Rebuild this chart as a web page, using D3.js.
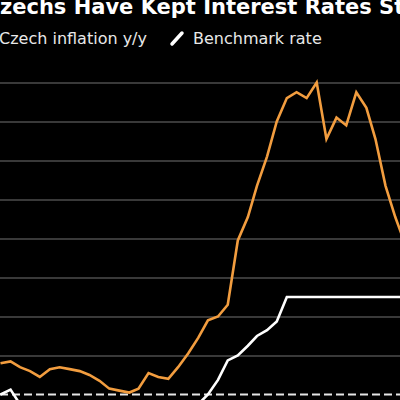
<!DOCTYPE html>
<html>
<head>
<meta charset="utf-8">
<script src="https://cdn.jsdelivr.net/npm/d3@7"></script>
<style>
  html, body { margin: 0; padding: 0; background: #000; overflow: hidden; }
  text { font-family: "DejaVu Sans", sans-serif; }
</style>
</head>
<body>
<div id="chart-area"></div>
<script>
// DATA
const months = [
  "2020-01","2020-02","2020-03","2020-04","2020-05","2020-06","2020-07","2020-08","2020-09","2020-10","2020-11","2020-12",
  "2021-01","2021-02","2021-03","2021-04","2021-05","2021-06","2021-07","2021-08","2021-09","2021-10","2021-11","2021-12",
  "2022-01","2022-02","2022-03","2022-04","2022-05","2022-06","2022-07","2022-08","2022-09","2022-10","2022-11","2022-12",
  "2023-01","2023-02","2023-03","2023-04","2023-05","2023-06"
]
const inflation = [
  3.6, 3.7, 3.4, 3.2, 2.9, 3.3, 3.4, 3.3, 3.2, 3.0, 2.7, 2.3,
  2.2, 2.1, 2.3, 3.1, 2.9, 2.8, 3.4, 4.1, 4.9, 5.8, 6.0, 6.6,
  9.9, 11.1, 12.7, 14.2, 16.0, 17.2, 17.5, 17.2, 18.0, 15.1, 16.2, 15.8,
  17.5, 16.7, 15.1, 12.7, 11.1, 9.7
]
const benchmarkRate = [
  2.0, 2.25, 1.5, 1.0, 0.25, 0.25, 0.25, 0.25, 0.25, 0.25, 0.25, 0.25,
  0.25, 0.25, 0.25, 0.25, 0.25, 0.5, 0.5, 0.75, 1.5, 2.0, 2.75, 3.75,
  4.0, 4.5, 5.0, 5.3, 5.75, 7.0, 7.0, 7.0, 7.0, 7.0, 7.0, 7.0,
  7.0, 7.0, 7.0, 7.0, 7.0, 7.0
]
const gridTicks = [4, 6, 8, 10, 12, 14, 16, 18]
const targetRate = 2
const titleText = "Czechs Have Kept Interest Rates Steady"
const legendLabels = ["Czech inflation y/y", "Benchmark rate"]

const WIDTH = 400
const HEIGHT = 400
const ORANGE = "#f29d3f"

const parseMonth = d3.timeParse("%Y-%m")
const dates = months.map(parseMonth)

const svg = d3.select("#chart-area").append("svg")
  .attr("width", WIDTH)
  .attr("height", HEIGHT)
  .style("display", "block")

svg.append("rect")
  .attr("width", WIDTH)
  .attr("height", HEIGHT)
  .attr("fill", "#000")

// SCALES
const x = d3.scaleTime()
  .domain([parseMonth("2020-01"), parseMonth("2022-09")])
  .range([0.5, 316.7])
const y = d3.scaleLinear()
  .domain([0, 18])
  .range([433.5, 82.5])

// GRIDLINES (value labels sit to the right, outside the crop)
const yAxisCall = d3.axisRight(y)
  .tickValues(gridTicks)
  .tickSize(420)
  .tickFormat(d => d + "%")
const yAxis = svg.append("g")
  .attr("class", "y axis")
  .call(yAxisCall)
yAxis.select(".domain").remove()
yAxis.selectAll("line")
  .attr("stroke", "#4d4d4d")
  .attr("stroke-width", 1.3)
yAxis.selectAll("text").attr("fill", "#aaa")

// 2% target
svg.append("line")
  .attr("x1", 0)
  .attr("x2", WIDTH)
  .attr("y1", y(targetRate))
  .attr("y2", y(targetRate))
  .attr("stroke", "#e6e6e6")
  .attr("stroke-width", 2)
  .attr("stroke-dasharray", "8,4")

// LINES
const valueLine = d3.line()
  .x((d, i) => x(dates[i]))
  .y(d => y(d))

svg.append("path")
  .datum(benchmarkRate)
  .attr("fill", "none")
  .attr("stroke", "#fff")
  .attr("stroke-width", 2.6)
  .attr("d", valueLine)

svg.append("path")
  .datum(inflation)
  .attr("fill", "none")
  .attr("stroke", ORANGE)
  .attr("stroke-width", 2.6)
  .attr("d", valueLine)

// TITLE
const title = svg.append("text")
  .attr("y", 14)
  .attr("fill", "#fff")
  .attr("font-size", "21px")
  .attr("font-weight", "bold")
  .text(titleText)
title.attr("x", -title.node().getSubStringLength(0, 1))

// LEGEND
const legend = svg.append("g")
const legendItems = [
  { label: legendLabels[0], color: ORANGE, x: -1 },
  { label: legendLabels[1], color: "#fff", x: 193 }
]
legendItems.forEach(item => {
  legend.append("line")
    .attr("x1", item.x - 21)
    .attr("y1", 44)
    .attr("x2", item.x - 11)
    .attr("y2", 33)
    .attr("stroke", item.color)
    .attr("stroke-width", 3.5)
    .attr("stroke-linecap", "round")
  legend.append("text")
    .attr("x", item.x)
    .attr("y", 43.5)
    .attr("fill", "#e8e8e8")
    .attr("font-size", "16px")
    .text(item.label)
})
</script>
</body>
</html>
